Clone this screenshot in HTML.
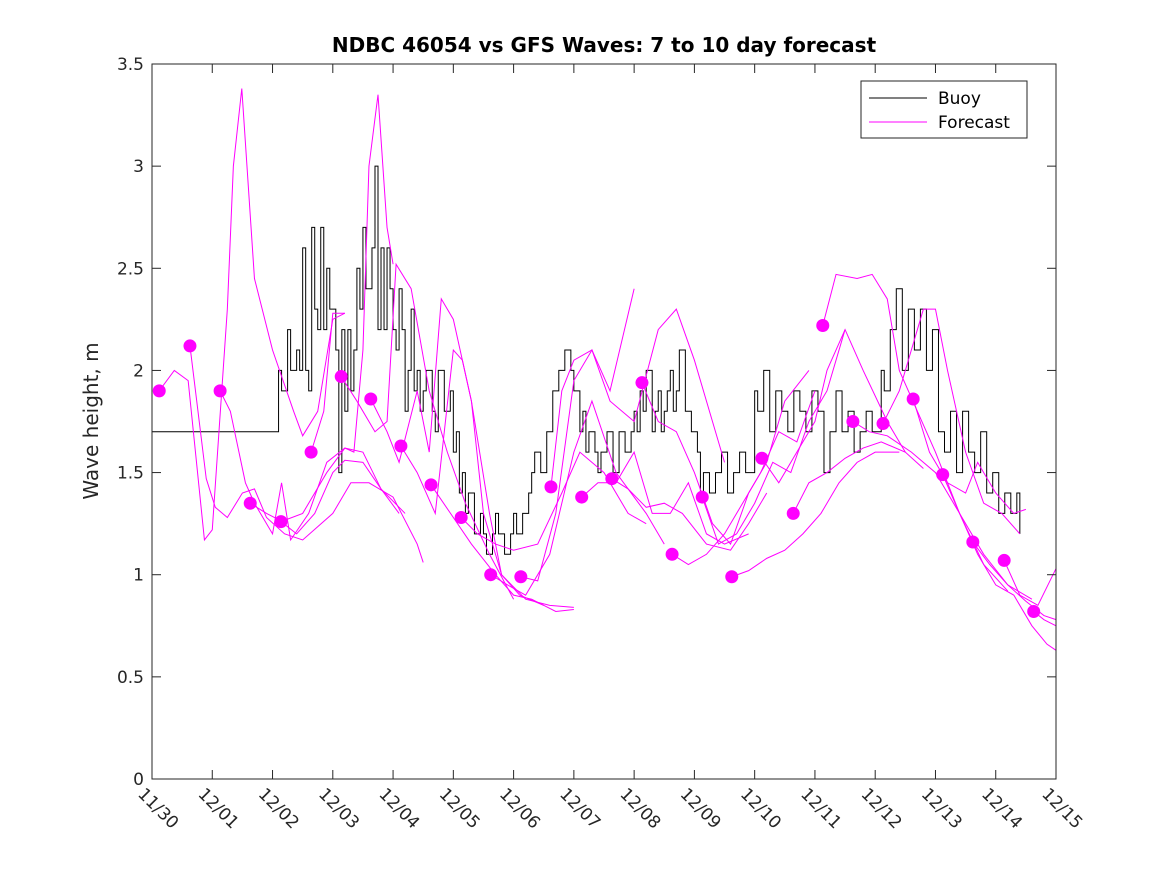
<!DOCTYPE html>
<html><head><meta charset="utf-8"><style>
body{margin:0;background:#fff}
svg{font-family:"DejaVu Sans","Liberation Sans",sans-serif}
</style></head><body>
<svg id="chart" width="1167" height="875" viewBox="0 0 1167 875">
<rect x="0" y="0" width="1167" height="875" fill="#fff"/>
<text x="604" y="52" text-anchor="middle" font-size="20" font-weight="bold" fill="#000">NDBC 46054 vs GFS Waves: 7 to 10 day forecast</text>
<text transform="translate(98,421) rotate(-90)" text-anchor="middle" font-size="20" fill="#262626">Wave height, m</text>
<g id="plot"></g>
<g id="axes"></g>
<g id="legend">
<rect x="861" y="81" width="166" height="57" fill="#fff" stroke="#262626" stroke-width="1"/>
<line x1="869" y1="98" x2="927" y2="98" stroke="#000" stroke-width="1"/>
<text x="938" y="104" font-size="17" fill="#000">Buoy</text>
<line x1="869" y1="122" x2="927" y2="122" stroke="#ff00ff" stroke-width="1"/>
<text x="938" y="128" font-size="17" fill="#000">Forecast</text>
</g>
</svg>
<script>
const xTickLabels=["11/30","12/01","12/02","12/03","12/04","12/05","12/06","12/07","12/08","12/09","12/10","12/11","12/12","12/13","12/14","12/15"];
const yTicks=[0,0.5,1,1.5,2,2.5,3,3.5];
const yTickLabels=["0","0.5","1","1.5","2","2.5","3","3.5"];
const buoyLeadValue=1.7;
const buoyStartDay=2.0;
const buoyStep=0.05;
const buoyValues=[1.7,1.7,2.0,1.9,1.9,2.2,2.0,2.0,2.1,2.0,2.6,2.0,1.9,2.7,2.3,2.2,2.7,2.2,2.5,2.3,
2.3,2.1,1.5,2.2,1.8,2.2,1.9,2.1,2.5,2.3,2.7,2.4,2.4,2.6,3.0,2.2,2.6,2.2,2.6,2.4,
2.2,2.1,2.4,2.2,1.8,2.0,2.3,1.9,2.0,1.8,1.9,2.0,2.0,1.8,1.7,2.0,2.0,1.8,1.8,1.9,
1.6,1.7,1.4,1.5,1.3,1.4,1.4,1.2,1.2,1.3,1.2,1.1,1.1,1.2,1.3,1.2,1.2,1.1,1.1,1.2,
1.3,1.2,1.2,1.3,1.3,1.4,1.5,1.6,1.6,1.5,1.5,1.7,1.7,1.9,1.9,2.0,2.0,2.1,2.1,2.0,
1.9,1.9,1.7,1.8,1.6,1.7,1.7,1.6,1.5,1.6,1.6,1.7,1.7,1.5,1.5,1.7,1.7,1.6,1.6,1.7,
1.8,1.7,1.9,1.8,2.0,2.0,1.7,1.8,1.9,1.7,1.8,1.9,2.0,1.8,1.9,2.1,2.1,1.8,1.8,1.7,
1.7,1.6,1.4,1.5,1.5,1.4,1.4,1.5,1.5,1.6,1.6,1.4,1.4,1.5,1.5,1.6,1.6,1.5,1.5,1.5,
1.9,1.8,1.8,2.0,2.0,1.7,1.7,1.9,1.9,1.8,1.8,1.7,1.7,1.9,1.9,1.8,1.8,1.7,1.7,1.9,
1.9,1.8,1.8,1.5,1.5,1.7,1.7,1.9,1.9,1.7,1.7,1.8,1.8,1.6,1.6,1.7,1.7,1.8,1.8,1.7,
1.7,1.7,2.0,1.9,1.9,2.2,2.2,2.4,2.4,2.0,2.0,2.3,2.3,2.1,2.1,2.3,2.3,2.0,2.0,2.2,
2.2,1.7,1.7,1.6,1.6,1.8,1.8,1.5,1.5,1.8,1.8,1.6,1.6,1.5,1.5,1.7,1.7,1.4,1.4,1.5,
1.5,1.3,1.3,1.4,1.4,1.3,1.3,1.4,1.2];
const dotDays=[0.12,0.63,1.13,1.63,2.14,2.64,3.14,3.63,4.13,4.63,5.13,5.62,6.12,6.62,7.13,7.63,8.13,8.63,9.13,9.62,10.12,10.64,11.13,11.63,12.13,12.63,13.12,13.62,14.14,14.63];
const dotValues=[1.90,2.12,1.90,1.35,1.26,1.60,1.97,1.86,1.63,1.44,1.28,1.00,0.99,1.43,1.38,1.47,1.94,1.10,1.38,0.99,1.57,1.30,2.22,1.75,1.74,1.86,1.49,1.16,1.07,0.82];
const forecasts=[
[[0.12,1.9],[0.37,2.0],[0.6,1.95],[0.87,1.17],[1.0,1.22],[1.25,2.3],[1.35,3.0],[1.49,3.38],[1.7,2.45],[2.0,2.1],[2.35,1.8],[2.5,1.68],[2.75,1.8],[3.0,2.25],[3.2,2.28]],
[[0.63,2.12],[0.9,1.47],[1.05,1.33],[1.25,1.28],[1.5,1.4],[1.7,1.42],[1.9,1.28],[2.2,1.2],[2.5,1.17],[3.0,1.3],[3.3,1.45],[3.6,1.45],[4.0,1.38],[4.4,1.15],[4.5,1.06]],
[[1.13,1.9],[1.3,1.8],[1.55,1.45],[1.7,1.35],[2.0,1.2],[2.15,1.45],[2.3,1.17],[2.6,1.3],[2.9,1.55],[3.2,1.62],[3.5,1.6],[3.8,1.42],[4.1,1.3]],
[[1.63,1.35],[1.9,1.3],[2.1,1.27],[2.4,1.2],[2.7,1.3],[3.0,1.5],[3.2,1.56],[3.5,1.55],[3.8,1.42],[4.2,1.3]],
[[2.14,1.26],[2.5,1.3],[2.9,1.5],[3.2,1.62],[3.35,1.6],[3.5,2.1],[3.6,3.0],[3.75,3.35],[3.9,2.7],[4.0,2.52]],
[[2.64,1.6],[2.85,1.8],[3.0,2.28],[3.2,2.28]],
[[3.14,1.97],[3.4,1.85],[3.7,1.7],[3.9,1.75],[4.05,2.52],[4.3,2.4],[4.6,1.9],[4.9,1.6],[5.2,1.35],[5.6,1.1],[6.0,0.88]],
[[3.63,1.86],[3.9,1.7],[4.1,1.55],[4.4,1.9],[4.6,1.6],[4.8,2.35],[5.0,2.25],[5.3,1.85],[5.6,1.3],[5.8,1.0],[6.1,0.9],[6.5,0.85]],
[[4.13,1.63],[4.4,1.5],[4.7,1.3],[5.0,2.1],[5.15,2.05],[5.3,1.85],[5.5,1.3],[5.8,1.0],[6.2,0.88],[6.6,0.85],[7.0,0.84]],
[[4.63,1.44],[5.0,1.28],[5.3,1.15],[5.7,1.0],[6.0,0.9],[6.3,0.88],[6.7,0.82],[7.0,0.83]],
[[5.13,1.28],[5.4,1.2],[5.7,1.15],[6.0,1.12],[6.4,1.15],[6.8,1.4],[7.1,1.6],[7.5,1.5],[7.9,1.3],[8.2,1.25]],
[[5.62,1.0],[5.9,0.95],[6.2,0.9],[6.6,1.1],[7.0,1.6],[7.3,1.85],[7.7,1.5],[8.2,1.3],[8.5,1.15]],
[[6.12,0.99],[6.4,0.97],[6.7,1.3],[7.0,1.95],[7.3,2.1],[7.6,1.85],[8.0,1.75],[8.4,2.2],[8.7,2.3],[9.0,2.05],[9.5,1.55]],
[[6.62,1.43],[6.8,1.9],[7.0,2.05],[7.3,2.1],[7.6,1.9],[8.0,2.4]],
[[7.13,1.38],[7.4,1.45],[7.7,1.45],[8.0,1.6],[8.3,1.3],[8.6,1.3],[8.9,1.45],[9.2,1.2],[9.5,1.15],[9.9,1.2]],
[[7.63,1.47],[7.9,1.42],[8.2,1.33],[8.5,1.35],[8.8,1.3],[9.2,1.15],[9.6,1.12],[9.9,1.25],[10.2,1.4]],
[[8.13,1.94],[8.4,1.75],[8.7,1.7],[9.0,1.5],[9.3,1.25],[9.6,1.15],[9.9,1.4],[10.2,1.55],[10.5,1.85],[10.9,2.0]],
[[8.63,1.1],[8.9,1.05],[9.2,1.1],[9.5,1.2],[9.8,1.35],[10.1,1.5],[10.4,1.7],[10.7,1.65],[11.0,1.9]],
[[9.13,1.38],[9.4,1.15],[9.7,1.2],[10.0,1.35],[10.3,1.55],[10.6,1.5],[10.9,1.75],[11.2,1.9],[11.5,2.2]],
[[9.62,0.99],[9.9,1.02],[10.2,1.08],[10.5,1.12],[10.8,1.2],[11.1,1.3],[11.4,1.45],[11.7,1.55],[12.0,1.6],[12.4,1.6]],
[[10.12,1.57],[10.4,1.45],[10.7,1.6],[11.0,1.75],[11.2,2.0],[11.5,2.2],[11.8,2.0],[12.2,1.75],[12.5,1.6]],
[[10.64,1.3],[10.9,1.45],[11.2,1.5],[11.5,1.57],[11.8,1.62],[12.1,1.65],[12.5,1.6],[12.8,1.52]],
[[11.13,2.22],[11.35,2.47],[11.7,2.45],[11.95,2.47],[12.2,2.35],[12.4,2.0],[12.7,1.8],[13.0,1.6],[13.4,1.3],[13.8,1.05],[14.2,0.92]],
[[11.63,1.75],[11.9,1.7],[12.2,1.68],[12.6,1.6],[13.0,1.5],[13.4,1.3],[13.8,1.1],[14.2,0.95],[14.6,0.88]],
[[12.13,1.74],[12.4,1.9],[12.6,2.1],[12.8,2.3],[13.0,2.3],[13.2,2.0],[13.5,1.6],[13.8,1.35],[14.1,1.3],[14.4,1.2]],
[[12.63,1.86],[12.9,1.6],[13.2,1.45],[13.5,1.4],[13.7,1.55],[14.0,1.4],[14.3,1.3],[14.5,1.32]],
[[13.12,1.49],[13.4,1.3],[13.7,1.1],[14.0,0.95],[14.3,0.9],[14.6,0.75],[14.85,0.66],[15.0,0.63]],
[[13.62,1.16],[13.9,1.05],[14.2,0.95],[14.5,0.87],[14.8,0.8],[15.0,0.78]],
[[14.14,1.07],[14.4,0.9],[14.7,0.85],[15.0,1.03]],
[[14.63,0.82],[14.8,0.78],[15.0,0.75]]
];
const NS="http://www.w3.org/2000/svg";
const X0=152,X1=1056,Y0=779,Y1=64,DAYS=15,YMAX=3.5;
function xs(d){return X0+(X1-X0)*d/DAYS;}
function ys(v){return Y0-(Y0-Y1)*v/YMAX;}
const plot=document.getElementById('plot');
const axes=document.getElementById('axes');
function mk(tag,attrs,parent){const e=document.createElementNS(NS,tag);for(const k in attrs)e.setAttribute(k,attrs[k]);parent.appendChild(e);return e;}
const frame=mk('rect',{x:X0,y:Y1,width:X1-X0,height:Y0-Y1,fill:'none',stroke:'#262626','stroke-width':1},axes);


yTicks.forEach((v,i)=>{
  const y=ys(v);
  const t1=mk('line',{x1:X0,y1:y,x2:X0+9,y2:y,stroke:'#262626'},axes);
  
  
  const t2=mk('line',{x1:X1,y1:y,x2:X1-9,y2:y,stroke:'#262626'},axes);
  
  
  const tx=mk('text',{x:X0-8,y:y+6,'text-anchor':'end','font-size':17,fill:'#262626'},axes);
  tx.textContent=yTickLabels[i];
  
  
});
xTickLabels.forEach((lab,i)=>{
  const x=xs(i);
  const t1=mk('line',{x1:x,y1:Y0,x2:x,y2:Y0-9,stroke:'#262626'},axes);
  
  
  const t2=mk('line',{x1:x,y1:Y1,x2:x,y2:Y1+9,stroke:'#262626'},axes);
  
  
  const tx=mk('text',{transform:`translate(${x-15},${Y0+16}) rotate(45)`,'font-size':17,fill:'#262626'},axes);
  tx.textContent=lab;
  
  
});
// buoy drawn as stairs
let pts=[[xs(0),ys(buoyLeadValue)]];
buoyValues.forEach((v,i)=>{
  const x=xs(buoyStartDay+i*buoyStep);
  pts.push([x,pts[pts.length-1][1]]);
  pts.push([x,ys(v)]);
});
const bl=mk('polyline',{points:pts.map(p=>p.join(',')).join(' '),fill:'none',stroke:'#000','stroke-width':1},plot);


forecasts.forEach(f=>{
  const pl=mk('polyline',{points:f.map(p=>xs(p[0])+','+ys(p[1])).join(' '),fill:'none',stroke:'#ff00ff','stroke-width':1},plot);
  
  
});
dotDays.forEach((d,i)=>{
  const c=mk('circle',{cx:xs(d),cy:ys(dotValues[i]),r:6.5,fill:'#ff00ff'},plot);
  
  
});
</script>
</body></html>
